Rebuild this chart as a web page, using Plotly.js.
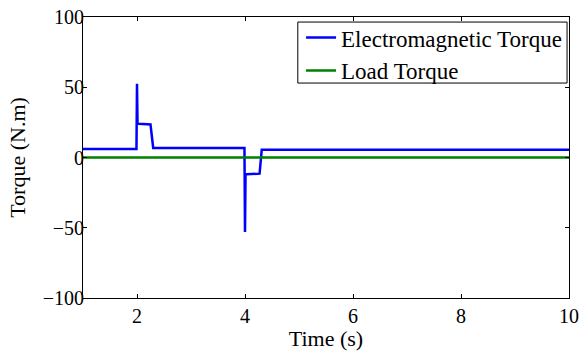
<!DOCTYPE html>
<html><head><meta charset="utf-8">
<script src="https://cdn.plot.ly/plotly-3.0.1.min.js"></script>
<style>html,body{margin:0;padding:0;background:#fff;}#chart{width:582px;height:351px;}</style>
</head><body><div id="chart"></div>
<script>
// Time (s) samples for the electromagnetic torque trace
const timeEM = [1, 1.99, 2.0, 2.01, 2.03, 2.25, 2.3, 3.99, 4.0, 4.01, 4.03, 4.27, 4.31, 10];
// Electromagnetic torque (N.m)
const torqueEM = [6, 6, 52.5, 24, 24, 23.5, 6.8, 6.8, -53, -12, -12, -11.5, 5.5, 5.5];
// Load torque
const timeLoad = [1, 10];
const torqueLoad = [0, 0];
const xTicks = [2, 4, 6, 8, 10];
const yTicks = [-100, -50, 0, 50, 100];

const font = '"Liberation Serif"';
const traces = [
  {x: timeEM, y: torqueEM, type: 'scatter', mode: 'lines', name: 'Electromagnetic Torque',
   line: {color: '#0000ff', width: 2.5}},
  {x: timeLoad, y: torqueLoad, type: 'scatter', mode: 'lines', name: 'Load Torque',
   line: {color: '#008000', width: 2.5}}
];
const axisCommon = {
  showgrid: false, zeroline: false, showline: true, linecolor: '#000', linewidth: 1,
  mirror: 'allticks', ticks: 'inside', ticklen: 4, tickcolor: '#000',
  tickfont: {family: font, size: 20, color: '#000'}
};
const layout = {
  width: 582, height: 351,
  margin: {l: 83, r: 13, t: 17, b: 53},
  paper_bgcolor: '#fff', plot_bgcolor: '#fff',
  font: {family: font, color: '#000'},
  showlegend: true,
  legend: {x: 0.996, y: 1.003, xanchor: 'right', yanchor: 'top',
    bgcolor: 'rgba(0,0,0,0)', borderwidth: 0,
    font: {family: font, size: 23, color: '#000'}, tracegroupgap: 0},
  shapes: [{type: 'rect', xref: 'paper', yref: 'paper', x0: 0.442, x1: 0.996, y0: 0.765, y1: 0.982,
    line: {color: '#000', width: 1}, fillcolor: '#fff', layer: 'below'}],
  xaxis: Object.assign({}, axisCommon, {range: [1, 10], tickmode: 'array', tickvals: xTicks,
    title: {text: 'Time (s)', font: {family: font, size: 22, color: '#000'}, standoff: 2}}),
  yaxis: Object.assign({}, axisCommon, {range: [-100, 100], tickmode: 'array', tickvals: yTicks,
    ticklabelstandoff: -6,
    title: {text: 'Torque (N.m)', font: {family: font, size: 22, color: '#000'}, standoff: 11}})
};
Plotly.newPlot('chart', traces, layout, {staticPlot: true, displayModeBar: false});
</script></body></html>
